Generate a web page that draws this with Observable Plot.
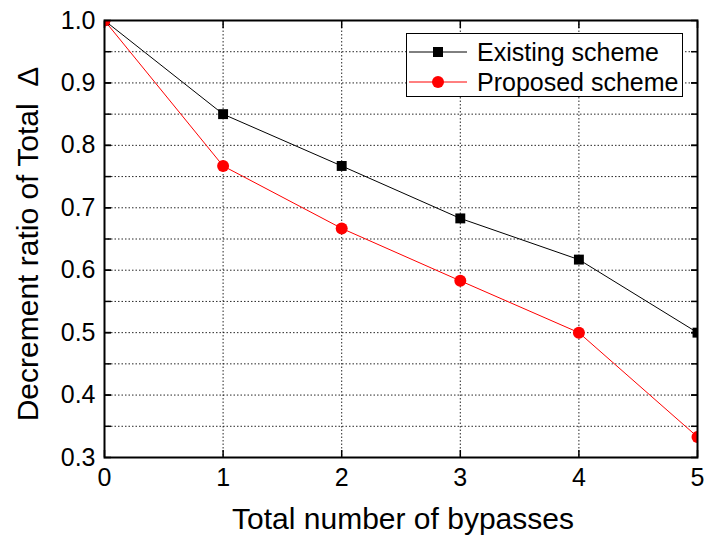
<!DOCTYPE html>
<html>
<head>
<meta charset="utf-8">
<script src="https://cdn.jsdelivr.net/npm/d3@7"></script>
<script src="https://cdn.jsdelivr.net/npm/@observablehq/plot@0.6"></script>
<style>
  html, body { margin: 0; padding: 0; background: #fff; }
  #wrap { position: relative; width: 708px; height: 544px; font-family: "Liberation Sans", Arial, sans-serif; }
  #legend { position: absolute; left: 406px; top: 33px; width: 275px; height: 62px; border: 1px solid #000; background: #fff; font-size: 25px; }
  .row { position: absolute; left: 0; height: 30px; display: flex; align-items: center; }
  .row svg { margin-left: 2px; }
  .row span { margin-left: 10px; }
</style>
</head>
<body>
<div id="wrap"></div>
<script>
const bypasses = [0, 1, 2, 3, 4, 5];
const existing = [1.0, 0.85, 0.767, 0.683, 0.617, 0.5];
const proposed = [1.0, 0.767, 0.667, 0.583, 0.5, 0.333];
const seriesNames = ["Existing scheme", "Proposed scheme"];
const yTicks = [0.3, 0.4, 0.5, 0.6, 0.7, 0.8, 0.9, 1.0];
const yGrid = [0.35, 0.4, 0.45, 0.5, 0.55, 0.6, 0.65, 0.7, 0.75, 0.8, 0.85, 0.9, 0.95];
const xTicks = [0, 1, 2, 3, 4, 5];
const xGrid = [1, 2, 3, 4];
const xTitle = "Total number of bypasses";
const yTitle = "Decrement ratio of Total  Δ";

const ex = bypasses.map((x, i) => ({x, y: existing[i]}));
const pr = bypasses.map((x, i) => ({x, y: proposed[i]}));

const chart = Plot.plot({
  width: 708,
  height: 544,
  marginLeft: 104,
  marginRight: 11,
  marginTop: 20,
  marginBottom: 87,
  style: {fontFamily: "'Liberation Sans', Arial, sans-serif", fontSize: "25px", color: "#000", background: "#fff", overflow: "visible"},
  x: {domain: [0, 5]},
  y: {domain: [0.3, 1.0]},
  marks: [
    Plot.gridY(yGrid, {stroke: "#000", strokeOpacity: 0.85, strokeDasharray: "1.5,2"}),
    Plot.gridX(xGrid, {stroke: "#000", strokeOpacity: 0.85, strokeDasharray: "1.5,2"}),
    Plot.axisY(yTicks, {anchor: "left", tickSize: 0, tickPadding: 9, label: null, tickFormat: d3.format(".1f")}),
    Plot.axisY(yGrid.concat(yTicks), {anchor: "left", tickSize: 7, dx: 7, fill: "none", label: null, strokeWidth: 1.5}),
    Plot.axisY(yGrid.concat(yTicks), {anchor: "right", tickSize: 7, dx: -7, fill: "none", label: null, strokeWidth: 1.5}),
    Plot.axisX(xTicks, {anchor: "bottom", tickSize: 0, tickPadding: 11, label: null, tickFormat: d3.format("d")}),
    Plot.axisX(xTicks, {anchor: "bottom", tickSize: 7, dy: -7, fill: "none", label: null, strokeWidth: 1.5}),
    Plot.axisX(xTicks, {anchor: "top", tickSize: 7, dy: 7, fill: "none", label: null, strokeWidth: 1.5}),
    Plot.line(ex, {x: "x", y: "y", stroke: "#000", strokeWidth: 1, clip: true}),
    Plot.line(pr, {x: "x", y: "y", stroke: "#ff0000", strokeWidth: 1, clip: true}),
    Plot.dot(ex, {x: "x", y: "y", symbol: "square", r: 5.6, fill: "#000", stroke: "none", clip: true}),
    Plot.dot(pr, {x: "x", y: "y", symbol: "circle", r: 6, fill: "#ff0000", stroke: "none", clip: true}),
    Plot.frame({stroke: "#000", strokeWidth: 2}),
    Plot.text([xTitle], {frameAnchor: "bottom", textAnchor: "middle", lineAnchor: "middle", dy: 62, dx: 2, fontSize: 30, fill: "#000"}),
    Plot.text([yTitle], {frameAnchor: "left", textAnchor: "middle", lineAnchor: "middle", rotate: -90, dx: -76, dy: 5, fontSize: 30, fill: "#000"})
  ]
});
const wrap = document.getElementById("wrap");
wrap.appendChild(chart);

const legend = document.createElement("div");
legend.id = "legend";
const items = [
  {name: seriesNames[0], color: "#000", shape: "square"},
  {name: seriesNames[1], color: "#ff0000", shape: "circle"}
];
items.forEach((it, i) => {
  const row = document.createElement("div");
  row.className = "row";
  row.style.top = (3 + i * 30) + "px";
  const marker = it.shape === "square"
    ? `<rect x="24" y="10" width="10" height="10" fill="${it.color}"/>`
    : `<circle cx="29" cy="15" r="6" fill="${it.color}"/>`;
  row.innerHTML = `<svg width="58" height="30"><line x1="0" x2="58" y1="15" y2="15" stroke="${it.color}" stroke-width="1"/>${marker}</svg><span>${it.name}</span>`;
  legend.appendChild(row);
});
wrap.appendChild(legend);
</script>
</body>
</html>
